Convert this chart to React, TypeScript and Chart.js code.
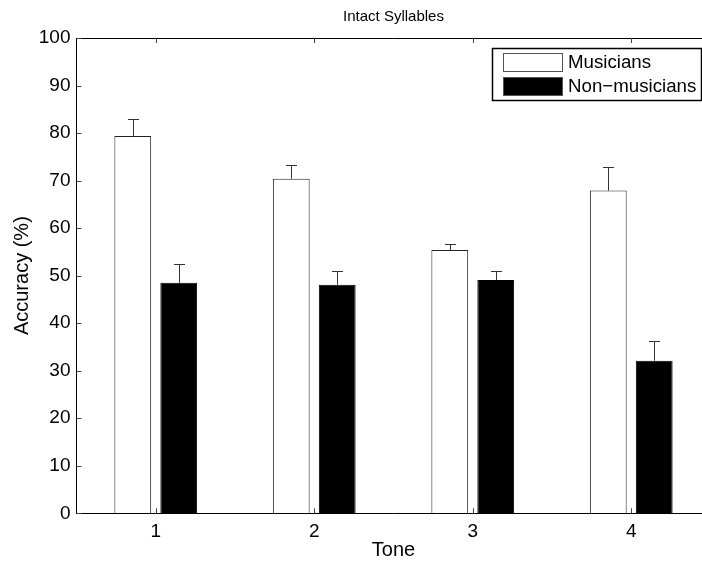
import React, { useEffect, useRef } from "react";
import { Chart, registerables } from "chart.js";

Chart.register(...registerables);

const categories = ["1", "2", "3", "4"];
const musicians = [79.4, 70.4, 55.4, 67.9];
const musiciansErr = [3.5, 2.8, 1.3, 4.9];
const nonMusicians = [48.5, 48.1, 49.1, 32.1];
const nonMusiciansErr = [4.0, 2.9, 1.9, 4.2];
const seriesNames = ["Musicians", "Non\u2212musicians"];
const yTicks = [0, 10, 20, 30, 40, 50, 60, 70, 80, 90, 100];
const errors = [musiciansErr, nonMusiciansErr];

const FONT = "'Liberation Sans', Arial, Helvetica, sans-serif";
const FS = 19;

const decorPlugin = {
  id: "decor",
  afterDatasetsDraw(chart: any) {
    const ctx = chart.ctx;
    const area = chart.chartArea;
    const ys = chart.scales.y;
    const xs = chart.scales.x;
    ctx.save();
    // error bars
    chart.data.datasets.forEach((ds: any, i: number) => {
      const meta = chart.getDatasetMeta(i);
      meta.data.forEach((el: any, j: number) => {
        const v = ds.data[j];
        const top = ys.getPixelForValue(v + errors[i][j]);
        const x = Math.round(el.x) + 0.5;
        ctx.strokeStyle = "#333";
        ctx.lineWidth = 1;
        ctx.beginPath();
        ctx.moveTo(x, el.y);
        ctx.lineTo(x, Math.round(top) + 0.5);
        ctx.moveTo(x - 5.5, Math.round(top) + 0.5);
        ctx.lineTo(x + 5.5, Math.round(top) + 0.5);
        ctx.stroke();
      });
    });
    // frame top line
    ctx.strokeStyle = "#000";
    ctx.lineWidth = 1;
    ctx.beginPath();
    ctx.moveTo(area.left, Math.round(area.top) + 0.5);
    ctx.lineTo(area.right, Math.round(area.top) + 0.5);
    ctx.moveTo(Math.round(area.right) - 0.5, area.top);
    ctx.lineTo(Math.round(area.right) - 0.5, area.bottom);
    ctx.stroke();
    // inward ticks
    ctx.strokeStyle = "#444";
    ctx.beginPath();
    yTicks.forEach((t) => {
      const y = Math.round(ys.getPixelForValue(t)) + 0.5;
      ctx.moveTo(area.left, y);
      ctx.lineTo(area.left + 5, y);
    });
    categories.forEach((_c, i) => {
      const x = Math.round(xs.getPixelForValue(i)) + 0.5;
      ctx.moveTo(x, area.bottom);
      ctx.lineTo(x, area.bottom - 5);
      ctx.moveTo(x, area.top);
      ctx.lineTo(x, area.top + 5);
    });
    ctx.stroke();
    // title
    ctx.fillStyle = "#000";
    ctx.font = `15px ${FONT}`;
    ctx.textAlign = "center";
    ctx.textBaseline = "middle";
    ctx.fillText("Intact Syllables", (area.left + area.right) / 2, 17);
    // axis titles
    ctx.font = `${FS + 1}px ${FONT}`;
    ctx.fillText("Tone", (area.left + area.right) / 2, 550);
    ctx.save();
    ctx.translate(22, (area.top + area.bottom) / 2);
    ctx.rotate(-Math.PI / 2);
    ctx.fillText("Accuracy (%)", 0, 0);
    ctx.restore();
    // legend
    const lx = 492.5, ly = 48.5, lw = 209, lh = 52;
    ctx.fillStyle = "#fff";
    ctx.fillRect(lx, ly, lw, lh);
    ctx.strokeStyle = "#000";
    ctx.lineWidth = 1.5;
    ctx.strokeRect(lx, ly, lw, lh);
    ctx.lineWidth = 1;
    const sw = [
      { y: 53.5, fill: "#fff" },
      { y: 77.5, fill: "#000" },
    ];
    sw.forEach((s, i) => {
      ctx.fillStyle = s.fill;
      ctx.fillRect(503.5, s.y, 59, 18);
      ctx.strokeStyle = "#555";
      ctx.strokeRect(503.5, s.y, 59, 18);
      ctx.fillStyle = "#000";
      ctx.textAlign = "left";
      ctx.textBaseline = "middle";
      ctx.font = `${FS - 0.3}px ${FONT}`;
      ctx.fillText(seriesNames[i], 568, s.y + 9.5);
    });
    ctx.restore();
  },
};

export default function App() {
  const ref = useRef<HTMLCanvasElement | null>(null);
  useEffect(() => {
    if (!ref.current) return;
    const chart = new Chart(ref.current, {
      type: "bar",
      data: {
        labels: categories,
        datasets: [
          {
            label: seriesNames[0],
            data: musicians,
            backgroundColor: "#ffffff",
            borderColor: "#222",
            borderWidth: 1,
            categoryPercentage: 0.58,
            barPercentage: 0.8,
          },
          {
            label: seriesNames[1],
            data: nonMusicians,
            backgroundColor: "#000000",
            borderColor: "#000",
            borderWidth: 1,
            categoryPercentage: 0.58,
            barPercentage: 0.8,
          },
        ],
      },
      options: {
        animation: false,
        responsive: false,
        devicePixelRatio: 1,
        layout: { padding: { top: 38, right: 9.5, left: 0, bottom: 0 } },
        plugins: {
          legend: { display: false },
          title: { display: false },
          tooltip: { enabled: false },
        },
        scales: {
          x: {
            grid: { display: false, drawTicks: false },
            border: { display: true, color: "#000", width: 1 },
            ticks: { color: "#000", font: { family: FONT, size: FS }, padding: 7 },
            afterFit: (s: any) => {
              s.height = 52.7;
            },
          },
          y: {
            min: 0,
            max: 100,
            grid: { display: false, drawTicks: false },
            border: { display: true, color: "#000", width: 1 },
            ticks: {
              stepSize: 10,
              color: "#000",
              font: { family: FONT, size: FS },
              padding: 6,
            },
            afterFit: (s: any) => {
              s.width = 76.5;
            },
          },
        },
      },
      plugins: [decorPlugin],
    });
    return () => chart.destroy();
  }, []);
  return (
    <div
      style={{
        position: "absolute",
        left: 0,
        top: 0,
        width: 702,
        height: 566,
        overflow: "hidden",
        background: "#fff",
      }}
    >
      <canvas ref={ref} width={720} height={566} style={{ display: "block" }} />
    </div>
  );
}
